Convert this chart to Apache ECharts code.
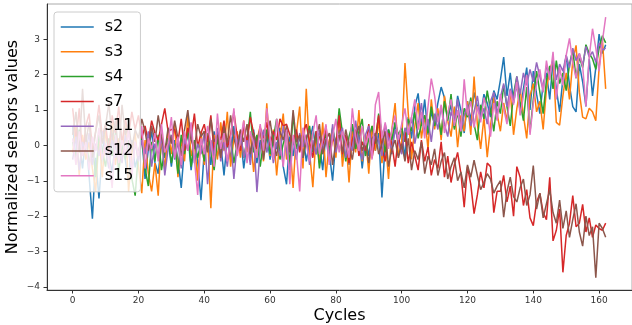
<!DOCTYPE html>
<html>
<head>
<meta charset="utf-8">
<script src="https://cdn.jsdelivr.net/npm/echarts@6/dist/echarts.min.js"></script>
<style>
  html, body { margin: 0; padding: 0; background: #fff; }
  #chart { width: 632px; height: 325px; }
</style>
</head>
<body>
<div id="chart"></div>
<script>
// sensor readings per cycle (index = cycle 0..162)
const s2 = [
  0.55, -0.42, 0.12, -0.65, 0.28, -0.88, -2.07, -0.35, -1.50, -0.20,
  0.45, -0.30, -0.75, 0.10, -0.55, 0.22, -0.40, -1.05, 0.15, -0.62,
  -0.25, 0.30, -0.95, -0.10, 0.40, -0.48, -0.80, 0.05, -0.35, 0.20,
  -0.60, 0.15, -0.40, -1.20, -0.05, 0.35, -0.70, 0.10, -0.45, -1.55,
  -0.15, 0.25, -0.55, 0.40, -0.30, 0.05, -0.85, 0.20, -0.40, 0.55,
  -0.20, 0.30, -0.65, 0.10, -0.35, 0.45, -0.50, 0.15, -0.25, 0.35,
  -0.40, 0.20, -0.10, 0.50, -0.60, -1.10, 0.25, -0.30, 0.40, -0.15,
  0.30, -0.45, 0.10, 0.55, -0.25, 0.05, -0.70, 0.35, -0.20, -1.00,
  0.15, 0.45, -0.35, 0.25, -0.55, 0.60, -0.10, 0.30, -0.65, 0.20,
  -0.30, 0.50, -0.15, 0.35, -1.47, 0.10, 0.45, -0.25, 0.65, 0.05,
  0.40, -0.35, 0.80, 0.20, 1.10, 1.47, 0.55, 1.30, 0.30, 0.95,
  0.60, 1.20, 1.65, 1.35, 0.75, 1.15, 0.50, 1.40, 1.00, 0.35,
  1.25, 0.70, 1.50, 1.10, 0.85, 1.45, 1.20, 0.80, 1.55, 1.30,
  1.85, 2.50, 1.40, 2.05, 1.20, 1.75, 0.95, 1.60, 2.20, 1.00,
  2.10, 1.45, 0.90, 1.75, 2.05, 1.30, 2.40, 1.60, 0.95, 1.90,
  2.55, 1.70, 1.10, 0.95, 2.30, 1.80, 1.10, 2.45, 1.40, 2.20,
  3.15, 2.60, 2.85
];
const s3 = [
  -0.20, 0.55, -0.85, 0.30, -0.40, 0.10, -0.65, -1.30, 0.25, -0.90,
  0.40, -0.15, 0.65, -0.55, 0.20, -0.30, 0.75, -1.30, -0.20, 0.35,
  -0.60, -1.35, 0.15, -0.80, -1.30, -0.50, -1.42, 0.30, -0.70, 0.45,
  -0.25, 0.60, -0.90, 0.20, -0.45, 0.85, -0.30, 0.10, -1.00, 0.40,
  -0.55, 0.25, -1.78, 0.30, -0.40, 0.65, -0.15, 0.95, -0.60, 0.20,
  0.40, -0.35, 0.70, -0.20, 0.30, -0.75, 0.15, 0.55, -0.45, 1.19,
  -0.30, 0.45, -0.85, 0.20, 0.90, -0.40, 0.10, -1.20, 0.35, 1.10,
  -0.65, 1.60, -0.20, -1.18, 0.30, -0.50, 0.65, -0.90, 0.15, 0.45,
  -0.35, 0.85, -0.60, 0.25, -1.05, 0.40, -0.20, 1.00, -0.45, 0.30,
  -0.80, 0.55, -0.15, 0.75, -0.50, 0.20, -0.95, 0.45, 1.20, -0.30,
  0.10, 2.33, 0.90, -0.40, 0.55, 1.20, 0.20, 0.85, -0.10, 1.30,
  0.45, 1.05, 0.15, 1.40, 0.70, 0.25, 1.10, -0.05, 0.85, 0.40,
  1.25, 0.30, 1.95, 0.60, -0.10, 0.80, -0.33, 0.55, 1.35, 0.90,
  0.40, 1.20, 0.70, 1.55, 0.30, 1.05, 1.60, 0.85, 0.20, 1.40,
  1.75, 0.95, 1.25, 0.45, 1.60, 2.15, 2.40, 0.65, 0.57, 1.40,
  2.05, 1.30, 2.40, 2.83, 1.50, 0.80, 0.75, 1.05, 0.95, 0.70,
  2.20, 3.00, 1.60
];
const s4 = [
  0.10, -0.35, 0.45, -0.20, 0.25, -0.55, 0.05, -0.90, 0.30, -0.15,
  -0.60, 0.20, -0.30, 0.35, -0.75, 0.05, -0.40, 0.15, -0.95, -1.42,
  -0.20, 0.25, -0.65, -1.15, 0.10, -0.45, 0.30, -0.70, -0.10, 0.20,
  -0.50, 0.05, -0.80, 0.30, -0.25, 0.45, -0.60, 0.15, -0.35, 0.10,
  -0.45, 0.35, -0.15, -0.70, 0.20, -0.30, 0.55, -0.05, 0.25, -0.50,
  0.05, 0.40, -0.35, 0.15, 0.95, -0.20, 0.30, -0.60, 0.10, 0.45,
  -0.25, 0.20, 0.75, -0.40, 0.05, 0.35, -0.55, 0.90, -0.10, 0.25,
  -0.35, 0.15, 0.55, -0.20, 0.40, -0.65, 0.10, 0.30, -0.15, 0.50,
  0.00, 1.05, 0.35, -0.45, 0.25, 0.60, -0.10, 0.40, 0.75, -0.30,
  0.20, 0.55, 0.05, 0.90, 0.35, -0.20, 0.45, 0.15, 0.65, 0.30,
  0.50, 0.10, 0.75, 0.40, 0.95, 0.20, 0.60, 0.85, 0.35, 1.10,
  0.55, 0.90, 0.30, 1.25, 0.70, 1.45, 0.45, 0.95, 0.25, 1.05,
  0.80, 1.35, 0.60, 0.15, 1.15, 0.75, 1.55, 1.00, 0.40, 1.25,
  0.90, 1.70, 1.10, 0.55, 1.45, 1.95, 1.20, 0.70, 1.65, 0.38,
  1.30, 2.10, 1.50, 0.90, 1.85, 2.25, 1.60, 2.40, 1.75, 2.05,
  1.55, 2.30, 2.70, 1.90, 2.50, 2.20, 2.85, 2.60, 2.45, 2.15,
  2.75, 3.10, 2.90
];
const s7 = [
  1.05, 0.15, 1.05, -0.30, 0.55, 0.90, -0.10, 0.40, 1.15, 0.25,
  0.60, -0.20, 0.85, 0.35, 1.10, 0.05, 0.75, 0.30, 0.95, 0.45,
  0.85, 0.20, 0.55, 0.10, 0.70, 0.35, 0.15, 0.60, 1.05, 0.40,
  0.45, 0.45, 0.10, 0.75, -0.15, 0.50, 0.20, 0.90, -0.05, 0.35,
  0.60, 0.10, 0.85, -0.20, 0.40, 0.15, 0.70, -0.05, 0.30, 0.95,
  0.25, -0.15, 0.55, 0.10, 0.80, 0.35, -0.10, 0.50, 0.20, 0.65,
  0.00, 0.40, 0.15, 0.75, 0.55, 0.60, 0.30, 0.05, 0.45, -0.20,
  0.35, 0.60, 0.10, -0.35, 0.40, 0.25, -0.10, 0.55, -0.40, 0.20,
  0.05, 0.85, -0.25, 0.30, -0.50, 0.15, 0.45, -0.30, 0.10, -0.15,
  0.60, -0.35, 0.20, 0.85, -0.10, -0.45, 0.35, 0.05, -0.60, 0.25,
  -0.20, 0.40, -0.50, 0.10, -0.30, -0.70, 0.15, -0.45, -0.05, -0.85,
  -0.40, -0.65, 0.10, -0.90, -0.30, -1.05, -0.55, -0.20, -0.80, -1.75,
  -0.60, -1.10, -1.93, -1.40, -0.75, -1.20, -0.50, -0.60, -1.90, -1.30,
  -1.30, -0.85, -1.60, -1.15, -2.00, -0.60, -0.90, -1.70, -1.25, -2.05,
  -2.27, -1.60, -1.36, -1.90, -2.10, -0.90, -2.70, -2.40, -1.80, -3.59,
  -2.55, -2.20, -1.42, -2.30, -2.20, -1.67, -2.45, -2.05, -2.60, -2.25,
  -2.35, -2.40, -2.20
];
const s11 = [
  -0.40, 0.25, -0.70, 0.10, -0.20, 0.35, -0.55, 0.05, -0.30, 0.40,
  -0.15, -0.65, 0.20, -0.35, 0.05, -0.50, 0.30, -0.20, -0.75, 0.10,
  -0.45, 0.15, -0.25, 0.40, -0.60, 0.05, -0.30, 0.25, -0.85, -0.10,
  0.30, -0.40, 0.10, -0.65, 0.20, -0.15, 0.45, -0.50, 0.05, -0.25,
  0.35, -1.10, 0.15, -0.30, 0.50, -0.45, 0.10, -0.60, 0.25, -0.95,
  0.05, 0.40, -0.35, 0.15, -0.55, 0.30, -1.32, -0.10, 0.45, -0.20,
  0.25, -0.50, 0.10, -0.30, 0.55, -0.15, -0.70, 0.20, -0.40, 0.35,
  -0.05, 0.30, -0.55, 0.15, -0.25, 0.45, -0.10, 0.20, -0.45, 0.60,
  -0.20, 0.25, 0.50, -0.35, 0.10, -0.15, 0.70, 0.05, -0.40, 0.30,
  0.55, -0.10, 0.35, 0.15, -0.30, 0.60, 0.20, -0.15, 0.45, 0.10,
  -0.25, 0.50, 0.30, 0.80, 0.05, 0.55, 1.20, 0.35, 0.75, 0.10,
  0.90, 0.45, 1.10, 0.60, 0.25, 0.95, 0.70, 1.30, 0.40, 0.85,
  1.15, 0.55, 0.95, 1.40, 0.75, 1.05, 0.60, 1.25, 1.50, 0.90,
  1.35, 1.75, 1.10, 1.60, 1.30, 1.95, 1.45, 2.05, 1.70, 2.15,
  1.80, 2.35, 1.95, 1.55, 2.25, 2.00, 2.45, 1.85, 2.30, 2.10,
  2.55, 2.20, 2.75, 2.40, 2.60, 2.25, 2.80, 2.50, 2.65, 2.35,
  2.90, 2.70, 2.75
];
const s12 = [
  0.30, 0.95, -0.20, 1.60, 0.10, 0.65, -0.35, 0.40, 0.85, 0.05,
  0.55, 1.20, 0.15, 0.70, -0.25, 1.15, 0.30, 0.60, -0.10, 0.45,
  0.20, 0.75, 0.40, -0.15, 0.55, 0.10, 0.85, 0.25, -0.20, 0.50,
  0.05, 0.70, 0.20, -0.30, 0.45, 1.00, 0.15, -0.10, 0.60, 0.25,
  0.40, -0.20, 0.75, 0.10, 0.30, -0.35, 0.55, 0.05, 0.85, 0.20,
  -0.15, 0.45, 0.10, 0.60, -0.25, 0.35, 0.00, 0.50, -0.40, 0.25,
  0.70, 0.05, -0.30, 0.40, 0.15, 0.55, -0.20, 1.00, 0.10, 0.30,
  -0.35, 0.20, 0.45, -0.10, 0.25, 0.60, -0.25, 0.15, 0.35, -0.55,
  0.10, 0.30, -0.20, 0.45, 0.00, -0.40, 0.25, 0.55, -0.15, 0.10,
  -0.50, 0.20, 0.35, -0.25, 0.05, 0.40, -0.60, -0.10, 0.15, -0.35,
  0.05, -0.45, 0.20, -0.70, -0.15, -0.40, 0.10, -0.80, -0.30, -0.55,
  -0.10, -0.85, -0.45, -0.20, -0.95, -0.60, -0.35, -1.00, -0.75, -1.20,
  -0.55, -0.90, -0.42, -0.85, -1.25, -1.05, -0.80, -0.95, -1.35, -1.15,
  -1.00, -2.03, -1.30, -0.90, -1.45, -1.60, -1.20, -0.95, -1.70, -1.40,
  -0.57, -1.80, -1.35, -2.05, -1.65, -1.25, -1.90, -2.20, -1.55, -2.35,
  -1.85, -2.60, -2.10, -1.65, -2.45, -2.85, -2.00, -2.55, -2.30, -3.74,
  -2.20, -2.35, -2.60
];
const s15 = [
  0.20, -0.55, 0.40, -0.30, 0.10, -0.70, 0.25, -0.15, 0.50, -0.40,
  0.05, -0.35, -1.20, 0.30, -0.50, 0.15, -0.25, 0.45, -0.85, 0.10,
  -0.30, 0.55, -0.65, 0.20, -0.10, 0.35, -0.45, 0.60, -0.20, 0.05,
  0.80, -0.35, 0.25, -0.55, 0.40, -0.15, 0.65, -0.40, -1.40, 0.20,
  -0.25, 0.55, 0.10, -0.60, 0.90, -0.10, 0.35, -0.45, 0.20, 1.05,
  -0.30, 0.15, 0.70, -0.50, 0.40, 0.05, -0.35, 0.60, -0.15, 1.05,
  0.20, -0.40, 0.75, 0.10, -0.60, 0.45, -1.10, 0.30, -0.20, -1.30,
  0.50, 0.05, -0.45, 0.35, 0.85, -0.25, 0.15, 0.60, -0.55, 0.25,
  0.75, -0.20, 0.40, 0.10, -0.35, 1.05, 0.25, -0.15, 0.55, 0.00,
  0.35, -0.40, 1.15, 1.51, 0.20, 0.65, -0.10, 0.45, 0.85, 0.15,
  0.60, 1.05, 0.30, 0.80, 1.30, 0.45, 0.95, 0.20, 1.10, 1.89,
  1.40, 0.65, 1.15, 0.35, 0.90, 1.30, 0.55, 1.00, 0.40, 1.87,
  0.85, 1.25, 0.50, 1.10, 0.65, 1.35, 0.95, 0.25, 1.20, 0.70,
  1.45, 1.05, 0.60, 1.55, 1.15, 1.80, 0.85, 1.40, 2.00, 0.30,
  1.20, 1.75, 2.15, 1.50, 2.40, 1.85, 2.65, 1.30, 2.20, 1.70,
  2.55, 3.03, 2.35, 1.90, 2.60, 2.25, 1.10, 2.50, 3.30, 2.75,
  2.10, 2.95, 3.63
];

const sensorNames = ['s2', 's3', 's4', 's7', 's11', 's12', 's15'];
const sensorValues = [s2, s3, s4, s7, s11, s12, s15];
const colors = ['#1f77b4', '#ff7f0e', '#2ca02c', '#d62728', '#9467bd', '#8c564b', '#e377c2'];
const xTicks = [0, 20, 40, 60, 80, 100, 120, 140, 160];
const yTicks = [-4, -3, -2, -1, 0, 1, 2, 3];

const chart = echarts.init(document.getElementById('chart'), null, { renderer: 'canvas' });

const minus = v => String(v).replace('-', '\u2212');

const option = {
    animation: false,
    textStyle: { fontFamily: 'DejaVu Sans' },
    color: colors,
    grid: {
        left: 47, right: 0, top: 4, bottom: 35,
        containLabel: false, outerBoundsMode: 'none',
        show: true, borderColor: '#aaaaaa', borderWidth: 1
    },
    legend: {
        left: 54, top: 12,
        orient: 'vertical',
        itemWidth: 33, itemHeight: 14, itemGap: 8.8,
        padding: [7, 7, 8, 6],
        backgroundColor: 'rgba(255,255,255,0.8)',
        borderColor: '#cccccc', borderWidth: 1, borderRadius: 3,
        itemStyle: { opacity: 0 },
        lineStyle: { width: 1.5 },
        textStyle: { fontSize: 16, color: '#000', padding: [0, 0, 0, 6], fontFamily: 'DejaVu Sans' },
        data: sensorNames
    },
    xAxis: {
        type: 'value',
        min: -7.8, max: 170,
        name: 'Cycles', nameLocation: 'middle', nameGap: 18, nameMoveOverlap: false,
        nameTextStyle: { fontSize: 16, color: '#000' },
        splitLine: { show: false },
        axisLine: { onZero: false, lineStyle: { color: '#333', width: 1 } },
        axisTick: { customValues: xTicks, length: 3.5, lineStyle: { color: '#333' } },
        axisLabel: { customValues: xTicks, fontSize: 9, color: '#333', margin: 6, formatter: minus }
    },
    yAxis: {
        type: 'value',
        min: -4.09, max: 4.0,
        name: 'Normalized sensors values', nameLocation: 'middle', nameGap: 26, nameMoveOverlap: false,
        nameTextStyle: { fontSize: 16, color: '#000' },
        splitLine: { show: false },
        axisLine: { show: true, onZero: false, lineStyle: { color: '#333', width: 1 } },
        axisTick: { show: true, customValues: yTicks, length: 3.5, lineStyle: { color: '#333' } },
        axisLabel: { customValues: yTicks, fontSize: 9, color: '#333', margin: 7, formatter: minus }
    },
    series: sensorNames.map((name, k) => ({
        name: name,
        type: 'line',
        symbol: 'none',
        lineStyle: { width: 1.5, color: colors[k] },
        data: sensorValues[k].map((v, i) => [i, v])
    }))
};

chart.setOption(option);
</script>
</body>
</html>
